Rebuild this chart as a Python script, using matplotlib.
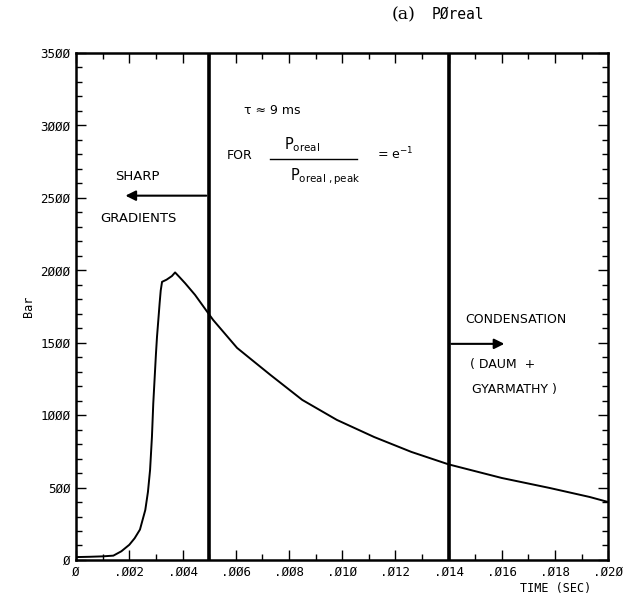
import matplotlib
matplotlib.use("Agg")
import matplotlib.pyplot as plt

# time (s) and pressure (bar)
time_s = [0.0, 0.0005, 0.0010, 0.0014, 0.0017, 0.0020, 0.0022, 0.0024, 0.0026, 0.0027,
          0.00278, 0.00285, 0.0029, 0.0030, 0.00304, 0.0031, 0.00314, 0.00318, 0.00323,
          0.0034, 0.0036, 0.00372, 0.0039, 0.0041, 0.00447, 0.00496, 0.00515, 0.0055,
          0.00605, 0.0066, 0.0073, 0.0085, 0.0098, 0.0112, 0.0126, 0.0140, 0.0160,
          0.0178, 0.0193, 0.0200]
pressure_bar = [20, 22, 25, 30, 60, 105, 150, 210, 345, 470,
                622, 850, 1080, 1420, 1540, 1680, 1775, 1860, 1920,
                1935, 1960, 1985, 1950, 1910, 1830, 1705, 1657, 1582,
                1464, 1382, 1278, 1105, 967, 849, 746, 660, 566,
                497, 435, 400]

vlines_x = [0.005, 0.014]
xticks = [0.0, 0.002, 0.004, 0.006, 0.008, 0.010, 0.012, 0.014, 0.016, 0.018, 0.020]
xtick_labels = ["Ø", ".ØØ2", ".ØØ4", ".ØØ6", ".ØØ8", ".Ø1Ø", ".Ø12", ".Ø14", ".Ø16", ".Ø18", ".Ø2Ø"]
yticks = [0, 500, 1000, 1500, 2000, 2500, 3000, 3500]
ytick_labels = ["Ø", "5ØØ", "1ØØØ", "15ØØ", "2ØØØ", "25ØØ", "3ØØØ", "35ØØ"]

mono = "DejaVu Sans Mono"
tf = "DejaVu Sans"
fig = plt.figure(figsize=(6.29, 6.0), dpi=100)
ax = fig.add_axes([0.121, 0.0667, 0.846, 0.845])

ax.plot(time_s, pressure_bar, color="black", lw=1.4)
for xv in vlines_x:
    ax.axvline(xv, color="black", lw=2.6)

ax.set_xlim(0, 0.020)
ax.set_ylim(0, 3500)
ax.set_xticks(xticks)
ax.set_xticklabels(xtick_labels, family=mono, fontsize=9)
ax.set_xticks([0.001 + 0.002 * i for i in range(10)], minor=True)
ax.set_yticks(yticks)
ax.set_yticklabels(ytick_labels, family=mono, fontsize=9)
ax.set_yticks([v for v in range(0, 3501, 100) if v % 500], minor=True)
ax.tick_params(which="both", direction="in", top=True, right=True, width=1.0)
ax.tick_params(which="major", length=7, pad=4)
ax.tick_params(which="minor", length=4)
for s in ax.spines.values():
    s.set_linewidth(1.8)

ax.set_ylabel("Bar", family=mono, fontsize=8.5, labelpad=4)
fig.text(0.883, 0.008, "TIME (SEC)", family=mono, fontsize=8.5, ha="center", va="bottom")

# title
fig.text(0.641, 0.975, "(a)", family="DejaVu Serif", fontsize=12.5, ha="center", va="center")
fig.text(0.728, 0.977, "PØreal", family=mono, fontsize=10.5, ha="center", va="center")

# tau annotation
ax.text(0.00632, 3100, "τ ≈ 9 ms", family=tf, fontsize=9, ha="left", va="center")
ax.text(0.00565, 2790, "FOR", family=tf, fontsize=9, ha="left", va="center")
ax.text(0.0085, 2870, r"$\mathregular{P_{oreal}}$", family=tf, fontsize=10.5, ha="center", va="center")
ax.plot([0.0073, 0.01056], [2769, 2769], color="black", lw=1.0)
ax.text(0.00936, 2645, r"$\mathregular{P_{oreal\ ,peak}}$", family=tf, fontsize=10.5, ha="center", va="center")
ax.text(0.01132, 2800, r"= e$^{\mathregular{-1}}$", family=tf, fontsize=9, ha="left", va="center")

# sharp gradients
ax.text(0.0023, 2650, "SHARP", family=tf, fontsize=9.5, ha="center", va="center")
ax.annotate("", xy=(0.00175, 2515), xytext=(0.005, 2515),
            arrowprops=dict(arrowstyle="-|>", color="black", lw=1.5, mutation_scale=15))
ax.text(0.00235, 2355, "GRADIENTS", family=tf, fontsize=9.5, ha="center", va="center")

# condensation
ax.text(0.01654, 1657, "CONDENSATION", family=tf, fontsize=9, ha="center", va="center")
ax.annotate("", xy=(0.0162, 1492), xytext=(0.014, 1492),
            arrowprops=dict(arrowstyle="-|>", color="black", lw=1.5, mutation_scale=15))
ax.text(0.01481, 1347, "( DAUM  +", family=tf, fontsize=9, ha="left", va="center")
ax.text(0.01489, 1174, "GYARMATHY )", family=tf, fontsize=9, ha="left", va="center")

fig.savefig("out.png", dpi=100)
